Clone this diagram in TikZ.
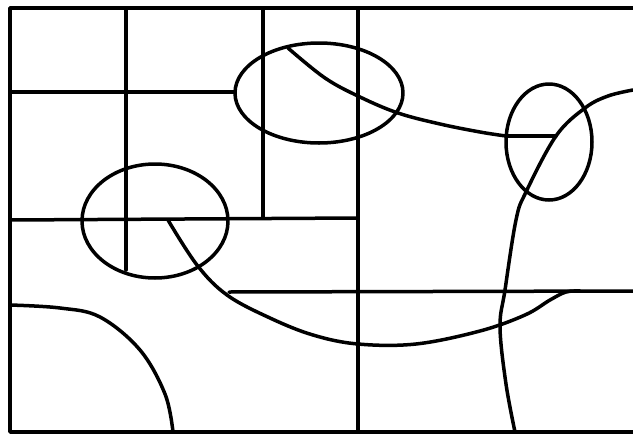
\documentclass[tikz,border=0pt]{standalone}
\begin{document}
\begin{tikzpicture}[x=1pt,y=-1pt,
  ink/.style={line width=3.5pt,line cap=round,line join=round,black}]
\useasboundingbox (0,0) rectangle (633,437);
\fill[white] (0,0) rectangle (633,437);
% frame (no right side)
\draw[ink] (633,8) -- (10,8) -- (10,432) -- (633,432);
% straight lines
\draw[ink] (126,8) -- (126,270);
\draw[ink] (263,8) -- (263,218);
\draw[ink] (358,8) -- (358,432);
\draw[ink] (10,92) -- (235,92);
\draw[ink] (10,220) -- (358,218);
\draw[ink] (229,292) -- (633,291);
\draw[ink] (506,136) -- (556,136);
% ellipses
\draw[ink] (319,93) ellipse [x radius=84,y radius=50];
\draw[ink] (155,221) ellipse [x radius=73,y radius=57];
\draw[ink] (549,142) ellipse [x radius=43,y radius=58];
% curves
\draw[ink] plot[smooth,tension=0.6] coordinates {(288,48) (325,78) (360,97) (398,113) (440,124) (480,132) (506,136)};
\draw[ink] plot[smooth,tension=0.6] coordinates {(633,90) (608,96) (585,108) (556,136) (526,192) (516,220) (505,290) (500,327) (506,384) (515,432)};
\draw[ink] plot[smooth,tension=0.6] coordinates {(168,220) (197,265) (227,295) (270,318) (313,335) (358,344) (416,344) (480,331) (525,315) (550,300) (566,292) (580,291)};
\draw[ink] plot[smooth,tension=0.6] coordinates {(10,305) (60,308) (100,317) (140,350) (165,394) (173,432)};
\end{tikzpicture}
\end{document}
